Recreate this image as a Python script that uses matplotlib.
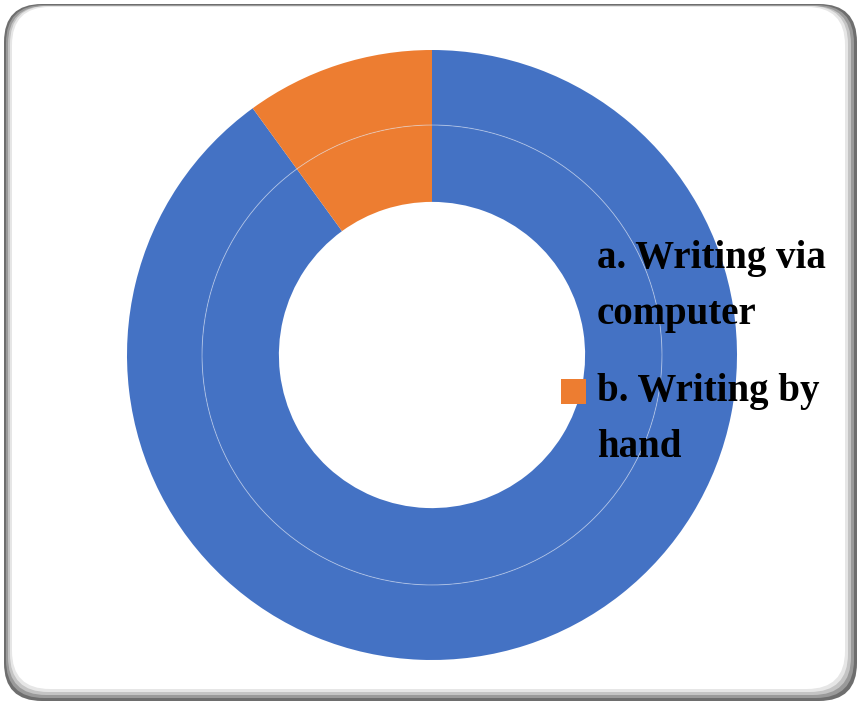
import matplotlib.pyplot as plt
from matplotlib.patches import FancyBboxPatch, Circle, Rectangle
from matplotlib.legend_handler import HandlerPatch

labels = ['a. Writing via\ncomputer', 'b. Writing by\nhand']
values = [90, 10]
colors = ['#4472C4', '#ED7D31']

W, H = 859, 704
fig = plt.figure(figsize=(W / 100, H / 100), dpi=100)

# background frame with soft shadow (pixel coords)
bg = fig.add_axes([0, 0, 1, 1])
bg.set_xlim(0, W)
bg.set_ylim(H, 0)
bg.axis('off')
layers = [
    (4, 4, 857, 701, '#6e6e6e'),
    (6, 5, 854, 698, '#9a9a9a'),
    (8, 6, 851, 695, '#c4c4c4'),
    (10, 6, 848, 692, '#e6e6e6'),
    (12, 7, 845, 689, 'white'),
]
for x0, y0, x1, y1, c in layers:
    bg.add_patch(FancyBboxPatch((x0 + 38, y0 + 38), x1 - x0 - 76, y1 - y0 - 76,
                                boxstyle='round,pad=38', fc=c, ec='none'))

# donut: two rings with the same data
cx, cy, r = 432, 355, 305
ax = fig.add_axes([(cx - r) / W, (H - cy - r) / H, 2 * r / W, 2 * r / H])
ax.pie(values, radius=1, colors=colors, startangle=90, counterclock=False,
       wedgeprops=dict(width=0.246, linewidth=0))
wedges, _ = ax.pie(values, radius=0.754, colors=colors, startangle=90, counterclock=False,
                   wedgeprops=dict(width=0.252, linewidth=0))
ax.add_patch(Circle((0, 0), 0.754, fill=False, ec='#dfe6f5', lw=0.7, alpha=0.5))
ax.set_xlim(-1, 1)
ax.set_ylim(-1, 1)
ax.set_aspect('equal')
ax.axis('off')


# legend marker sits next to the first line of each wrapped label
def first_line_patch(legend, orig_handle, xdescent, ydescent, width, height, fontsize):
    return Rectangle((-xdescent, -ydescent + 20.5), width, height)


leg = fig.legend(wedges, labels, loc='upper left',
                 bbox_to_anchor=(561 / W, 1 - 240 / H),
                 frameon=False, borderpad=0, borderaxespad=0,
                 handlelength=0.64, handleheight=0.64, handletextpad=0.28,
                 labelspacing=1.04,
                 handler_map={w: HandlerPatch(patch_func=first_line_patch) for w in wedges},
                 prop=dict(family='Liberation Serif', weight='bold', size=28))
for t in leg.get_texts():
    t.set_linespacing(1.67)

fig.savefig('out.png', dpi=100)
